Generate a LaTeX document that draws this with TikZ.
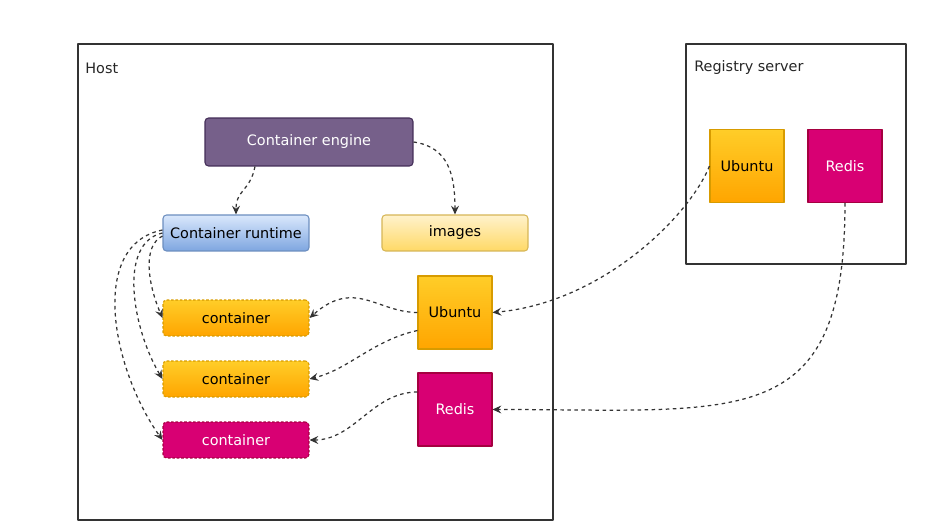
\documentclass[tikz,border=0pt]{standalone}
\usepackage{fontspec}
\setmainfont{DejaVu Sans}
\usetikzlibrary{arrows.meta}
\definecolor{engfill}{HTML}{76608A}
\definecolor{engline}{HTML}{432D57}
\definecolor{bluetop}{HTML}{DAE8FC}
\definecolor{bluebot}{HTML}{7EA6E0}
\definecolor{blueline}{HTML}{6C8EBF}
\definecolor{yeltop}{HTML}{FFF2CC}
\definecolor{yelbot}{HTML}{FFD966}
\definecolor{yelline}{HTML}{D6B656}
\definecolor{orgtop}{HTML}{FFCD28}
\definecolor{orgbot}{HTML}{FFA500}
\definecolor{orgline}{HTML}{D79B00}
\definecolor{magfill}{HTML}{D80073}
\definecolor{magline}{HTML}{A50040}
\begin{document}
\begin{tikzpicture}[x=0.02cm, y=-0.02cm, line join=round, font=\fontsize{8.2}{10}\selectfont, >={Stealth[length=5pt, width=4.5pt, inset=1.8pt]}]
	\tikzset{frame/.style={draw=black!80, line width=0.8pt, inner sep=0pt},
		lbl/.style={anchor=west, inner sep=0pt, text=black!85},
		box/.style={rounded corners=2pt, line width=0.6pt, minimum width=2.92cm, minimum height=0.72cm, inner sep=0pt},
		sq/.style={line width=0.6pt, minimum width=1.48cm, minimum height=1.46cm, inner sep=0pt},
		orange/.style={top color=orgtop, bottom color=orgbot, draw=orgline},
		magenta/.style={fill=magfill, draw=magline, text=white},
		cont/.style={box, dash pattern=on 1.5pt off 1pt},
		link/.style={->, dash pattern=on 2pt off 2pt, line width=0.7pt, draw=black!80}}
	\useasboundingbox (0,0) rectangle (927,530);
	% frames
	\node[frame, minimum width=9.5cm, minimum height=9.52cm] (host) at (315.5,282) {};
	\node[frame, minimum width=4.4cm, minimum height=4.4cm] (registry) at (796,154) {};
	\node[lbl] (hostlbl) at (85,68) {Host};
	\node[lbl] (reglbl) at (694,68) {Registry server};
	% host
	\node[box, fill=engfill, draw=engline, text=white, minimum width=4.16cm, minimum height=0.96cm] (engine) at (309,142) {Container engine};
	\node[box, top color=bluetop, bottom color=bluebot, draw=blueline] (runtime) at (236,233) {Container runtime};
	\node[box, top color=yeltop, bottom color=yelbot, draw=yelline] (images) at (455,233) {images};
	\node[sq, orange] (ubuntuH) at (455,312.5) {Ubuntu};
	\node[sq, magenta] (redisH) at (455,409.5) {Redis};
	\node[cont, orange] (c1) at (236,318) {container};
	\node[cont, orange] (c2) at (236,379) {container};
	\node[cont, magenta] (c3) at (236,440) {container};
	% registry
	\node[sq, orange] (ubuntuR) at (747,166) {Ubuntu};
	\node[sq, magenta] (redisR) at (845,166) {Redis};
	% connectors
	\draw[link] ([xshift=-1.08cm]engine.south) .. controls +(-5,25) and +(0,-25) .. (runtime.north);
	\draw[link] (engine.east) .. controls +(35,5) and +(0,-40) .. (images.north);
	\draw[link] ([yshift=-0.06cm]runtime.west) .. controls +(-20,10) and +(-15,-35) .. (c1.west);
	\draw[link] (runtime.west) .. controls +(-45,10) and +(-30,-50) .. (c2.west);
	\draw[link] ([yshift=0.06cm]runtime.west) .. controls +(-75,15) and +(-50,-70) .. (c3.west);
	\draw[link] (ubuntuH.west) .. controls +(-40,0) and +(45,-40) .. (c1.east);
	\draw[link] ([yshift=-0.36cm]ubuntuH.west) .. controls +(-45,10) and +(40,-10) .. (c2.east);
	\draw[link] ([yshift=0.35cm]redisH.west) .. controls +(-45,0) and +(45,0) .. (c3.east);
	\draw[link] (ubuntuR.west) .. controls +(-20,50) and +(110,-10) .. (ubuntuH.east);
	\draw[link] (redisR.south) .. controls +(0,230) and +(250,0) .. (redisH.east);
\end{tikzpicture}
\end{document}
